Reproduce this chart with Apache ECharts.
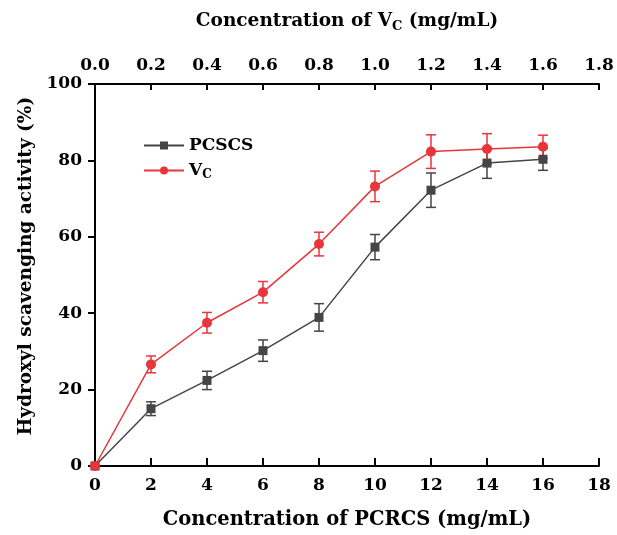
<!DOCTYPE html>
<html>
<head>
<meta charset="utf-8">
<script src="https://cdn.jsdelivr.net/npm/echarts@6/dist/echarts.min.js"></script>
<style>
  html, body { margin: 0; padding: 0; background: #fff; }
  #chart { width: 617px; height: 535px; }
</style>
</head>
<body>
<div id="chart"></div>
<script>
// concentration of PCRCS (mg/mL)
const conc = [0, 2, 4, 6, 8, 10, 12, 14, 16];
const pcscs = [0, 15.0, 22.4, 30.2, 38.9, 57.3, 72.2, 79.3, 80.3];
const pcscsErr = [0, 1.8, 2.4, 2.8, 3.6, 3.3, 4.5, 4.0, 2.9];
const vc = [0, 26.6, 37.5, 45.5, 58.1, 73.2, 82.3, 83.0, 83.6];
const vcErr = [0, 2.2, 2.7, 2.8, 3.1, 4.0, 4.4, 4.0, 3.0];

const font = '"DejaVu Serif", "Liberation Serif", serif';
const black = '#000';
const grey = '#454545';
const red = '#e8353b';

let chart = echarts.init(document.getElementById('chart'));

function pairs(ys) {
  return conc.map((x, i) => [x, ys[i]]);
}

function errData(ys, errs) {
  return conc.map((x, i) => [x, ys[i] - errs[i], ys[i] + errs[i]]).filter((d, i) => errs[i] > 0);
}

function errBars(color) {
  return function (params, api) {
    let lo = api.coord([api.value(0), api.value(1)]);
    let hi = api.coord([api.value(0), api.value(2)]);
    let w = 5;
    let style = { stroke: color, lineWidth: 1.5 };
    return {
      type: 'group',
      children: [
        { type: 'line', shape: { x1: lo[0], y1: lo[1], x2: hi[0], y2: hi[1] }, style: style },
        { type: 'line', shape: { x1: lo[0] - w, y1: lo[1], x2: lo[0] + w, y2: lo[1] }, style: style },
        { type: 'line', shape: { x1: hi[0] - w, y1: hi[1], x2: hi[0] + w, y2: hi[1] }, style: style }
      ]
    };
  };
}

let axisLabel = { color: black, fontFamily: font, fontWeight: 'bold', fontSize: 17 };

let option = {
  animation: false,
  backgroundColor: '#fff',
  grid: { left: 95, right: 18, top: 84, bottom: 65 },
  legend: {
    orient: 'vertical',
    left: 138,
    top: 132,
    itemWidth: 40,
    itemHeight: 10,
    itemGap: 8,
    data: ['PCSCS', 'VC'],
    formatter: function (name) {
      return name === 'VC' ? '{a|V}{b|C}' : '{a|PCSCS}';
    },
    textStyle: {
      rich: {
        a: { fontFamily: font, fontWeight: 'bold', fontSize: 17, color: black },
        b: { fontFamily: font, fontWeight: 'bold', fontSize: 12, color: black, verticalAlign: 'bottom', padding: [8, 0, 0, 0] }
      }
    }
  },
  xAxis: [{
    type: 'value',
    min: 0,
    max: 18,
    interval: 2,
    position: 'bottom',
    name: 'Concentration of PCRCS (mg/mL)',
    nameLocation: 'middle',
    nameGap: 44,
    nameTextStyle: { color: black, fontFamily: font, fontWeight: 'bold', fontSize: 19.5 },
    axisLine: { onZero: false, lineStyle: { color: black, width: 2 } },
    axisTick: { inside: true, length: 8, lineStyle: { color: black, width: 2 } },
    axisLabel: Object.assign({ margin: 11 }, axisLabel),
    splitLine: { show: false }
  }, {
    type: 'value',
    min: 0,
    max: 1.8,
    interval: 0.2,
    position: 'top',
    name: '{a|Concentration of V}{b|C}{a| (mg/mL)}',
    nameLocation: 'middle',
    nameGap: 51,
    nameTextStyle: {
      rich: {
        a: { fontFamily: font, fontWeight: 'bold', fontSize: 18.5, color: black },
        b: { fontFamily: font, fontWeight: 'bold', fontSize: 13, color: black, verticalAlign: 'bottom', padding: [10, 0, 0, 0] }
      }
    },
    axisLine: { onZero: false, lineStyle: { color: black, width: 2 } },
    axisTick: { inside: true, length: 6, lineStyle: { color: black, width: 2 } },
    axisLabel: Object.assign({ margin: 10, formatter: v => v.toFixed(1) }, axisLabel),
    splitLine: { show: false }
  }],
  yAxis: {
    type: 'value',
    min: 0,
    max: 100,
    interval: 20,
    name: 'Hydroxyl scavenging activity (%)',
    nameLocation: 'middle',
    nameGap: 58,
    nameTextStyle: { color: black, fontFamily: font, fontWeight: 'bold', fontSize: 18.5, padding: [0, 0, 0, 18] },
    axisLine: { show: true, onZero: false, lineStyle: { color: black, width: 2 } },
    axisTick: { show: true, length: 7, lineStyle: { color: black, width: 2 } },
    axisLabel: Object.assign({ margin: 13 }, axisLabel),
    splitLine: { show: false }
  },
  series: [{
    name: 'PCSCS',
    type: 'line',
    data: pairs(pcscs),
    symbol: 'rect',
    symbolSize: 9,
    itemStyle: { color: grey },
    lineStyle: { color: grey, width: 1.5 },
    z: 3
  }, {
    name: 'VC',
    type: 'line',
    data: pairs(vc),
    symbol: 'circle',
    symbolSize: 10,
    itemStyle: { color: red },
    lineStyle: { color: red, width: 1.5 },
    z: 3
  }, {
    type: 'custom',
    renderItem: errBars(grey),
    data: errData(pcscs, pcscsErr),
    z: 2
  }, {
    type: 'custom',
    renderItem: errBars(red),
    data: errData(vc, vcErr),
    z: 2
  }]
};

chart.setOption(option);
</script>
</body>
</html>
